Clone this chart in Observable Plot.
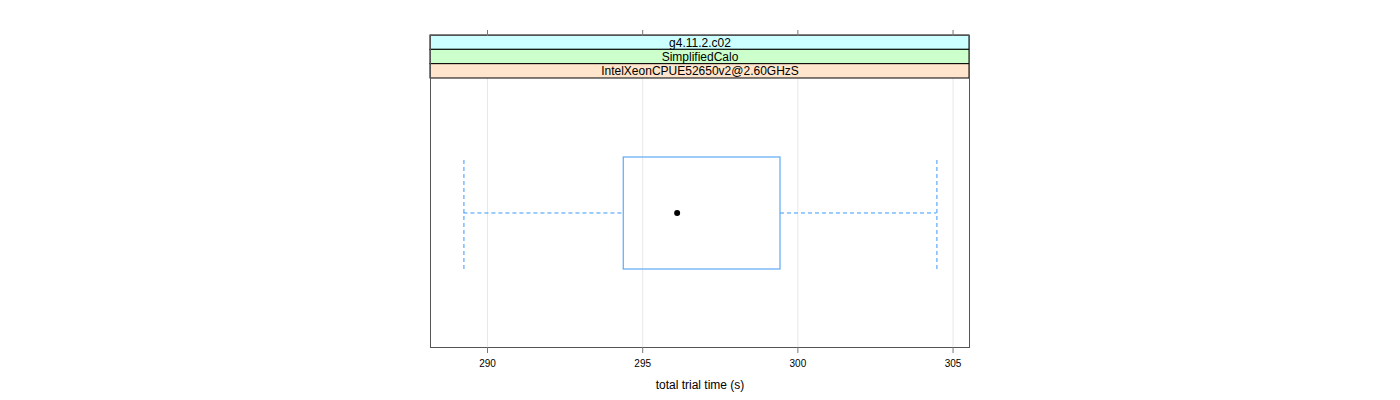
<!DOCTYPE html>
<html>
<head>
<meta charset="utf-8">
<script src="https://cdn.jsdelivr.net/npm/d3@7"></script>
<script src="https://cdn.jsdelivr.net/npm/@observablehq/plot@0.6"></script>
<style>
  html, body { margin: 0; padding: 0; background: #fff; }
  #chart svg { display: block; }
</style>
</head>
<body>
<div id="chart"></div>
<script>
// ---- data ----
const stripLabels = ["g4.11.2.c02", "SimplifiedCalo", "IntelXeonCPUE52650v2@2.60GHzS"];
const stripColors = ["#ccffff", "#ccffcc", "#ffe5cc"];
const xTicks = [290, 295, 300, 305];
const xDomain = [288.163, 305.53];
const whiskerLow = 289.24;
const q1 = 294.39;
const median = 296.11;
const q3 = 299.44;
const whiskerHigh = 304.48;
const xLabel = "total trial time (s)";

// ---- layout (vertical units = pixels above the panel bottom) ----
const panelTop = 269;     // top of plotting region (below strips)
const stripH = 14.33;
const boxLo = 78, boxHi = 190, boxMid = 134.5;

const strips = stripLabels.map((label, i) => ({
  label,
  fill: stripColors[i],
  y2: panelTop + stripH * (stripLabels.length - i),
  y1: panelTop + stripH * (stripLabels.length - i - 1)
}));

const boxCol = "#5ea8f5";
const whiskCol = "#3a98fb";

const chart = Plot.plot({
  width: 1400,
  height: 400,
  marginLeft: 430,
  marginRight: 431,
  marginTop: 35,
  marginBottom: 53,
  style: { fontFamily: "'Liberation Sans', Arial, sans-serif", fontSize: "10px", background: "white" },
  x: { domain: xDomain, label: null },
  y: { domain: [0, panelTop + stripH * 3], axis: null },
  marks: [
    Plot.ruleX(xTicks, { y1: 0, y2: panelTop, stroke: "#e8e8e8", strokeWidth: 1 }),
    // whiskers
    Plot.ruleY([boxMid], { x1: whiskerLow, x2: q1, stroke: whiskCol, strokeDasharray: "4,3" }),
    Plot.ruleY([boxMid], { x1: q3, x2: whiskerHigh, stroke: whiskCol, strokeDasharray: "4,3" }),
    Plot.ruleX([whiskerLow, whiskerHigh], { y1: boxLo, y2: boxHi - 1, stroke: whiskCol, strokeDasharray: "4,3" }),
    // box
    Plot.rect([{ q1, q3 }], { x1: "q1", x2: "q3", y1: boxLo, y2: boxHi, fill: "none", stroke: boxCol, strokeWidth: 1.2, inset: 0 }),
    // median dot
    Plot.dot([median], { x: d => d, y: boxMid, r: 3, fill: "black", stroke: "none" }),
    // strips
    Plot.rect(strips, { y1: "y1", y2: "y2", fill: "fill", stroke: "black", strokeWidth: 1, inset: 0 }),
    Plot.text(strips, { y: d => (d.y1 + d.y2) / 2, text: "label", fontSize: 12, fill: "black" }),
    // panel frame
    Plot.frame({ stroke: "#555", strokeWidth: 1 }),
    // axes
    Plot.axisX({ anchor: "bottom", ticks: xTicks, tickSize: 6, tickPadding: 6, stroke: "#777", fill: "black", fontSize: 10, label: null }),
    Plot.axisX({ anchor: "top", ticks: xTicks, tickSize: 6, tickFormat: () => "", stroke: "#777", label: null }),
    Plot.text([xLabel], { frameAnchor: "bottom", dy: 38, lineAnchor: "middle", fontSize: 12, fill: "black" })
  ]
});

document.getElementById("chart").appendChild(chart);
</script>
</body>
</html>
